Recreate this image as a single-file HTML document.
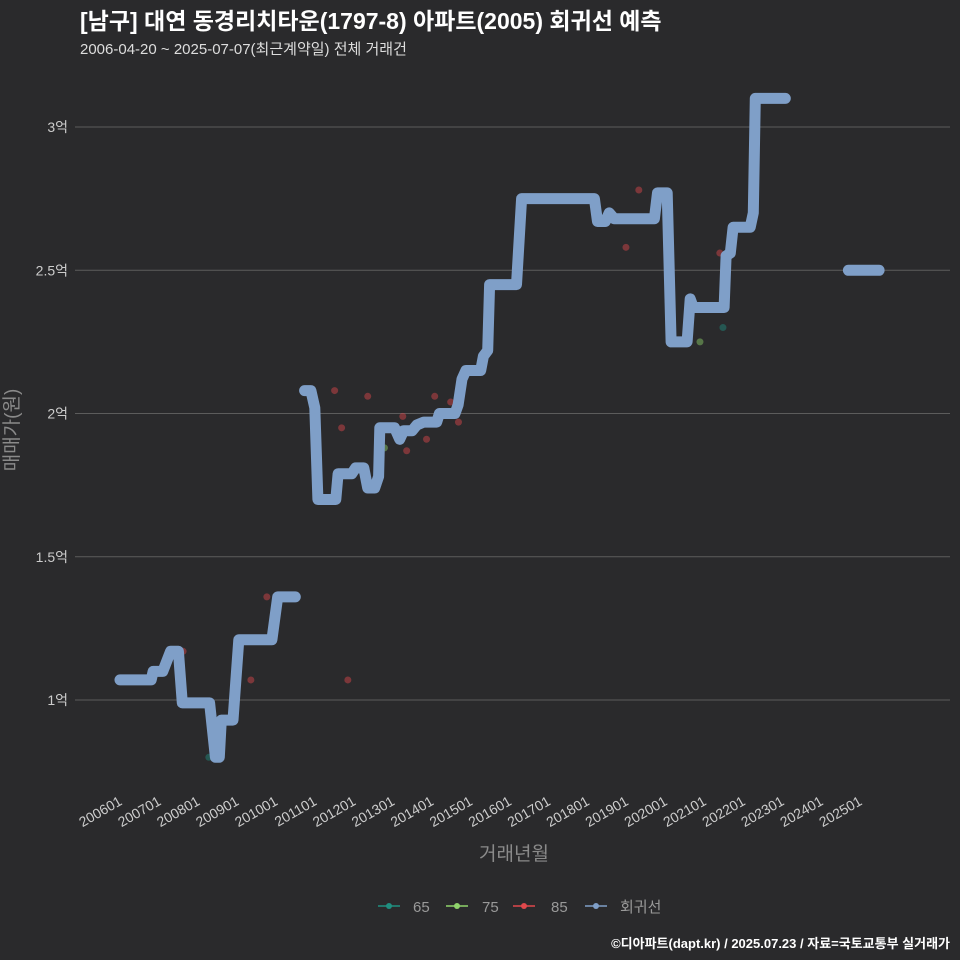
<!DOCTYPE html>
<html><head><meta charset="utf-8"><style>
html,body{margin:0;padding:0;background:#2a2a2c;}
svg{display:block;font-family:"Liberation Sans","Noto Sans CJK KR",sans-serif;}
</style></head><body>
<svg id="chart" width="960" height="960" viewBox="0 0 960 960">
<rect width="960" height="960" fill="#2a2a2c"/>
<text x="80" y="29" fill="#ffffff" font-size="23" font-weight="bold">[남구] 대연 동경리치타운(1797-8) 아파트(2005) 회귀선 예측</text>
<text x="80" y="54" fill="#dddddd" font-size="15">2006-04-20 ~ 2025-07-07(최근계약일) 전체 거래건</text>
<g id="grid"></g>
<g id="yticks"></g>
<g id="xticks"></g>
<g id="points"></g>
<path id="reg" fill="none" stroke="#7f9fc8" stroke-width="11" stroke-linejoin="round" stroke-linecap="round"/>
<path id="reg2" fill="none" stroke="#7f9fc8" stroke-width="11" stroke-linejoin="round" stroke-linecap="round"/>
<path id="reg3" fill="none" stroke="#7f9fc8" stroke-width="11" stroke-linejoin="round" stroke-linecap="round"/>
<text x="18" y="430" fill="#8a8a8a" font-size="19" text-anchor="middle" transform="rotate(-90 18 430)">매매가(원)</text>
<text x="514" y="860" fill="#8a8a8a" font-size="19" text-anchor="middle">거래년월</text>
<g>
<g><line x1="378" y1="906" x2="400" y2="906" stroke="#1f8f80" stroke-width="1.5"/><circle cx="389" cy="906" r="3" fill="#1f8f80"/><text x="413" y="912" fill="#999" font-size="15">65</text></g>
<g><line x1="446" y1="906" x2="468" y2="906" stroke="#8fd36b" stroke-width="1.5"/><circle cx="457" cy="906" r="3" fill="#8fd36b"/><text x="482" y="912" fill="#999" font-size="15">75</text></g>
<g><line x1="513" y1="906" x2="535" y2="906" stroke="#e0484c" stroke-width="1.5"/><circle cx="524" cy="906" r="3" fill="#e0484c"/><text x="551" y="912" fill="#999" font-size="15">85</text></g>
<g><line x1="585" y1="906" x2="607" y2="906" stroke="#7f9fc8" stroke-width="1.5"/><circle cx="596" cy="906" r="3" fill="#7f9fc8"/><text x="620" y="912" fill="#999" font-size="15">회귀선</text></g>
</g>
<text x="950" y="948" fill="#ffffff" font-size="13" font-weight="bold" text-anchor="end">©디아파트(dapt.kr) / 2025.07.23 / 자료=국토교통부 실거래가</text>
</svg>
<script>
const yTickVals=[1,1.5,2,2.5,3];
const yTickLabels=["1억","1.5억","2억","2.5억","3억"];
const xTickYears=[2006,2007,2008,2009,2010,2011,2012,2013,2014,2015,2016,2017,2018,2019,2020,2021,2022,2023,2024,2025];
const xTickLabels=["200601","200701","200801","200901","201001","201101","201201","201301","201401","201501","201601","201701","201801","201901","202001","202101","202201","202301","202401","202501"];
const regT1=[2006.0,2006.8,2006.85,2007.1,2007.3,2007.5,2007.6,2008.3,2008.45,2008.55,2008.6,2008.9,2009.05,2009.9,2010.05,2010.5];
const regV1=[1.07,1.07,1.10,1.10,1.17,1.17,0.99,0.99,0.80,0.80,0.93,0.93,1.21,1.21,1.36,1.36];
const regT2=[2010.74,2010.9,2011.0,2011.08,2011.54,2011.6,2011.95,2012.05,2012.26,2012.36,2012.54,2012.64,2012.67,2013.05,2013.18,2013.28,2013.5,2013.62,2013.8,2014.13,2014.2,2014.6,2014.68,2014.78,2014.88,2015.26,2015.33,2015.44,2015.49,2016.18,2016.31,2018.18,2018.26,2018.46,2018.56,2018.69,2019.72,2019.8,2020.05,2020.15,2020.56,2020.64,2020.72,2021.51,2021.56,2021.67,2021.74,2022.18,2022.26,2022.31,2023.08];
const regV2=[2.08,2.08,2.02,1.70,1.70,1.79,1.79,1.81,1.81,1.74,1.74,1.78,1.95,1.95,1.91,1.94,1.94,1.96,1.97,1.97,2.0,2.0,2.03,2.12,2.15,2.15,2.20,2.22,2.45,2.45,2.75,2.75,2.67,2.67,2.70,2.68,2.68,2.77,2.77,2.25,2.25,2.40,2.37,2.37,2.55,2.56,2.65,2.65,2.70,3.10,3.10];
const regT3=[2024.7,2025.49];
const regV3=[2.50,2.50];
const ptT=[2007.62,2009.77,2009.36,2011.51,2011.69,2011.85,2012.36,2013.26,2013.36,2013.87,2014.08,2014.49,2014.69,2018.99,2019.32,2021.40,2008.28,2021.48,2012.79,2020.89];
const ptV=[1.17,1.36,1.07,2.08,1.95,1.07,2.06,1.99,1.87,1.91,2.06,2.04,1.97,2.58,2.78,2.56,0.80,2.30,1.88,2.25];
const ptArea=[85,85,85,85,85,85,85,85,85,85,85,85,85,85,85,85,65,65,75,75];
const colors={65:"#1f8f80",75:"#8fd36b",85:"#e0484c"};
const X=t=>120+(t-2006)*38.95;
const Y=v=>700-(v-1)*286.5;
const NS="http://www.w3.org/2000/svg";
function mk(tag,attrs,parent){const e=document.createElementNS(NS,tag);for(const k in attrs)e.setAttribute(k,attrs[k]);document.getElementById(parent).appendChild(e);return e;}
yTickVals.forEach((v,i)=>{
  const l=mk("line",{x1:75,x2:950,y1:Y(v),y2:Y(v),stroke:"#5c5c5c","stroke-width":1},"grid");
  
  
  const t=mk("text",{x:68,y:Y(v)+5,fill:"#cccccc","font-size":14,"text-anchor":"end"},"yticks");
  t.textContent=yTickLabels[i];
  
  
});
xTickYears.forEach((yr,i)=>{
  const x=X(yr);
  const t=mk("text",{x:x+3,y:804,fill:"#cccccc","font-size":14,"text-anchor":"end",transform:`rotate(-30 ${x+3} 804)`},"xticks");
  t.textContent=xTickLabels[i];
  
  
});
ptT.forEach((t,i)=>{
  const c=mk("circle",{cx:X(t),cy:Y(ptV[i]),r:3.5,fill:colors[ptArea[i]],"fill-opacity":0.45},"points");
  
  
});
const pathOf=(T,V)=>T.map((t,i)=>(i?"L":"M")+X(t).toFixed(1)+" "+Y(V[i]).toFixed(1)).join(" ");
document.getElementById("reg").setAttribute("d",pathOf(regT1,regV1));
document.getElementById("reg2").setAttribute("d",pathOf(regT2,regV2));
document.getElementById("reg3").setAttribute("d",pathOf(regT3,regV3));
</script>
</body></html>
